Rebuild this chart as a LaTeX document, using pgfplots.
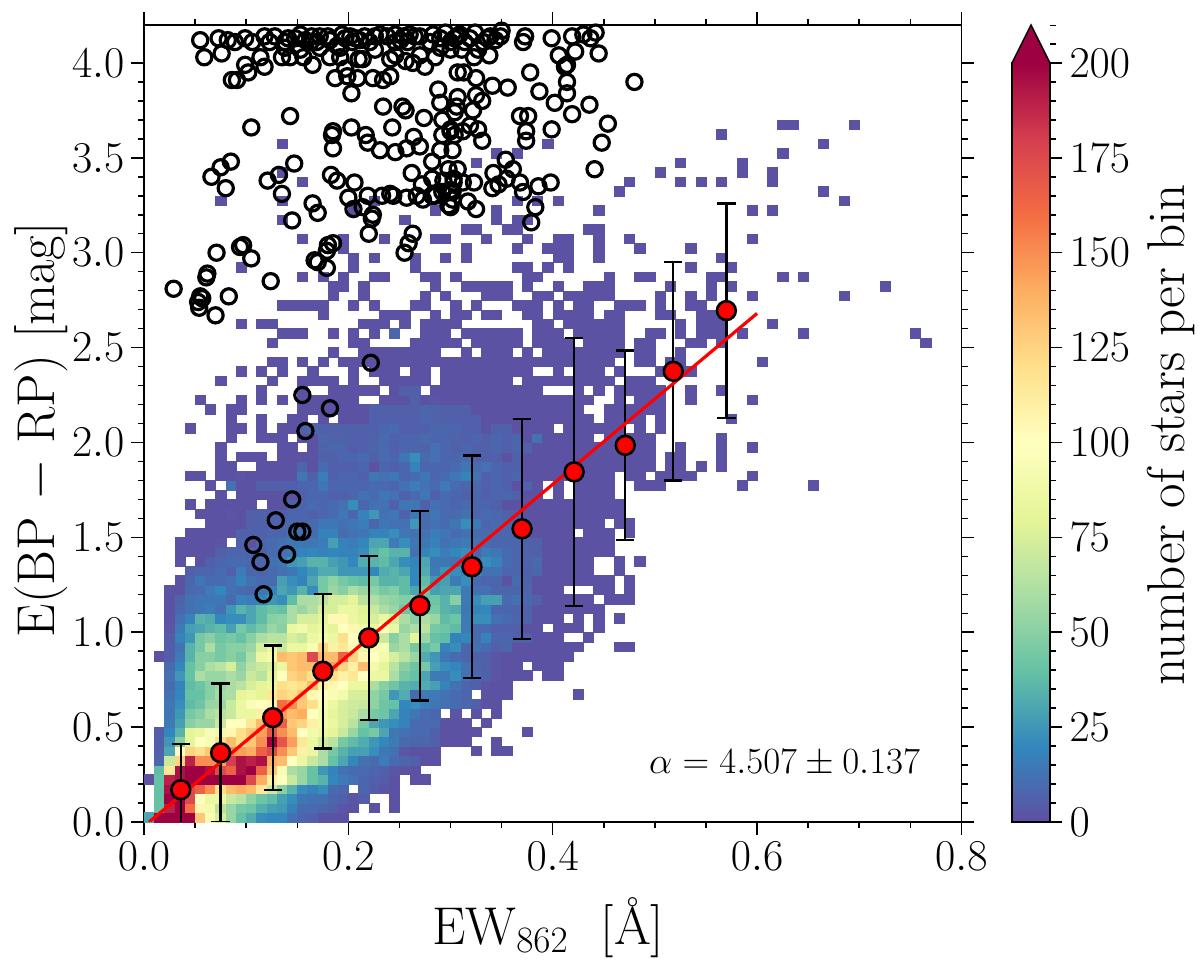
\RequirePackage{fix-cm}
\documentclass[border=0pt]{standalone}
\usepackage{pgfplots}
\pgfplotsset{compat=1.18}
\newcount\ci
\def\cells{}
\newcommand\R[3]{\global\ci=#2\relax\pgfmathsetmacro\yy{#1*0.05+0.025}\foreach\v in{#3}{\ifnum\v>0 \xdef\cells{\cells(\ifnum\ci<10 0.0\else 0.\fi\the\ci 5,\yy)[\v] }\fi\global\advance\ci by 1 }}
\newcommand\Rs[2]{\pgfmathsetmacro\yy{#1*0.05+0.025}\foreach\c in{#2}{\xdef\cells{\cells(0.\c 5,\yy)[1] }}}
% counts per bin: \R{row}{first column}{values}, bin size 0.01 x 0.05
\R{0}{0}{30,200,200,200,200,130,95,75,55,40,32,22,20,20,12,8,6,1,1,1}
\R{1}{1}{40,190,200,160,105,90,65,55,45,42,33,28,26,18,10,10,8,6,2,1,0,1,0,1}
\R{2}{1}{40,200,200,175,100,85,85,70,65,52,42,38,28,22,14,12,12,8,6,2,5,0,0,1}
\R{3}{1}{40,195,200,175,165,150,120,135,140,135,115,70,50,35,22,18,22,10,8,0,8,5,2,1}
\R{4}{0}{1,40,190,195,200,200,200,200,200,200,175,140,110,100,70,55,40,35,20,15,12,8,6,5,1,0,1,1}
\R{5}{1}{38,115,195,200,200,195,175,165,195,200,165,130,95,60,55,40,25,18,12,10,9,8,6,2,1,1}
\R{6}{1}{8,70,125,190,150,150,145,180,195,190,195,140,135,100,85,70,60,40,30,20,12,10,16,10,8,6,1,1}
\R{7}{1}{6,30,100,125,120,130,175,150,145,140,165,175,150,130,110,85,60,45,35,28,28,22,14,12,2,1,1,1,0,0,0,1,0,1,1}
\R{8}{1}{5,25,50,80,100,95,120,135,120,130,150,200,170,145,115,85,72,65,45,38,32,25,20,15,10,8,8,6,1,1,1,0,0,1}
\R{9}{1}{5,20,35,80,85,95,90,105,120,130,145,170,150,135,100,90,85,80,70,55,40,45,30,14,12,10,10,6,1,1,1,1,0,0,0,0,1}
\R{10}{2}{15,28,50,55,55,70,100,100,115,135,150,165,130,125,110,90,85,75,65,45,30,25,22,18,10,9,10,1,1,1,0,1}
\R{11}{2}{14,25,45,50,60,65,70,85,85,110,130,145,135,140,100,90,80,75,70,60,45,42,30,18,14,10,8,0,2,0,1,0,1}
\R{12}{2}{14,22,38,42,55,55,70,85,95,100,105,160,150,130,120,95,85,75,72,70,52,42,40,20,22,16,14,12,10,8,6,1,1}
\R{13}{2}{12,20,40,40,50,58,60,80,85,80,115,125,120,130,105,100,95,90,75,75,52,45,25,32,10,15,15,12,10,8,0,1,1,1,0,0,0,0,0,0,1}
\R{14}{2}{10,18,38,42,50,55,60,65,75,80,85,120,115,120,135,110,105,100,85,85,60,50,42,35,32,32,28,18,12,8,6,2,1,1}
\R{15}{2}{12,25,40,60,55,55,60,55,70,65,80,100,125,130,120,140,120,110,115,100,85,85,60,45,40,30,15,15,22,12,8,6,2,1,1,1,0,1,1}
\R{16}{2}{10,20,40,50,60,65,75,52,65,70,75,85,130,135,135,150,145,125,110,135,90,80,65,50,42,45,28,22,20,12,8,6,2,1,1,0,1,1,1}
\R{17}{1}{1,5,15,35,50,50,45,50,45,60,85,90,135,130,135,175,135,135,165,125,105,100,90,75,65,55,32,25,14,10,8,6,6,2,1,1,1,1,1,1,1}
\R{18}{2}{5,12,35,45,60,45,50,50,55,75,85,70,85,85,95,125,110,115,95,85,95,95,55,60,45,38,45,18,22,8,12,10,6,8,1,1,1,1,1,1,1,0,0,0,1,1}
\R{19}{2}{5,18,25,45,50,42,45,40,50,60,65,65,75,70,85,90,85,120,100,95,90,70,50,60,80,55,40,38,18,20,10,18,8,8,6,6,1,1,1,0,0,1}
\R{20}{2}{2,15,28,30,35,38,28,45,38,45,55,50,85,90,80,85,80,100,105,90,85,100,85,55,60,65,45,42,38,15,10,10,6,6,6,1,1,0,1,1,1,0,1}
\R{21}{2}{1,12,18,35,32,20,22,22,30,38,50,52,60,75,75,80,105,105,85,80,75,85,75,60,50,60,55,38,42,15,22,22,12,10,8,7,1,1,1,0,1,0,1,0,1}
\R{22}{2}{1,8,12,14,16,12,25,35,30,38,42,40,60,55,62,75,75,85,85,78,70,60,55,42,52,45,45,35,32,14,18,20,8,8,7,7,1,1,1,1,1,1,1}
\R{23}{2}{1,7,12,14,14,14,10,18,16,18,25,22,38,60,60,65,75,75,80,65,62,55,52,48,52,40,42,35,50,15,22,28,28,10,12,8,6,1,1,1,1,1,0,1,1,1}
\R{24}{2}{1,1,10,9,15,20,12,10,8,14,18,30,25,35,22,45,55,50,60,55,52,45,48,38,30,42,28,30,30,15,12,12,8,8,8,8,1,1,1,0,0,0,1,1,0,1}
\R{25}{3}{1,8,14,10,10,12,18,12,10,10,28,22,18,30,45,52,45,40,38,45,35,35,38,20,38,25,28,15,22,10,8,8,1,10,7,1,1,1,1,1,1,1,1,0,1}
\R{26}{4}{6,8,8,10,6,16,8,8,10,12,14,20,25,32,32,25,25,25,20,32,35,30,20,32,15,24,22,18,22,12,12,8,8,6,8,1,1,1,1,1,0,0,1}
\R{27}{3}{1,0,1,6,8,10,10,8,8,12,14,25,28,35,35,28,25,20,32,35,38,30,22,18,30,14,14,12,24,10,22,18,10,8,7,10,1,1,1,1,1,0,0,1,0,1}
\R{28}{3}{1,1,1,1,6,8,8,8,6,10,12,14,18,20,18,20,18,18,22,35,40,35,35,12,18,22,16,20,22,8,15,14,10,8,7,6,1,1,1,1,1,1,1}
\R{29}{3}{1,1,1,1,2,0,6,1,8,10,12,14,14,14,16,28,18,16,20,30,30,15,22,14,14,18,12,14,15,12,10,8,8,8,6,6,1,1,1,1,1,1,1}
\R{30}{4}{1,1,1,1,1,6,6,6,8,8,12,12,10,18,18,10,12,14,18,18,22,14,12,12,16,14,10,12,10,10,8,8,6,1,1,1,1,1,0,1,1,1,0,1}
\R{31}{6}{1,1,1,1,6,6,6,8,10,8,10,14,14,12,14,16,8,14,12,12,25,10,12,10,14,22,15,8,10,8,6,1,1,1,1,1,1,1,1,0,1,1}
\R{32}{5}{1,1,1,2,1,6,6,6,6,8,8,6,8,10,14,8,18,25,12,14,6,14,10,14,10,10,12,8,10,8,6,6,1,1,1,1,1,1,1,1,1,1}
\R{33}{4}{1,0,1,1,1,1,1,0,1,1,6,8,10,8,10,12,22,8,12,12,6,14,14,6,12,10,8,10,8,8,6,1,1,1,1,1,1,1,1,1,1,1,1}
\R{34}{7}{1,0,1,1,1,1,1,1,6,8,8,6,6,8,12,10,14,12,6,10,14,6,10,8,6,8,6,8,8,6,1,1,0,1,0,1,1,1,1}
\R{35}{6}{1,0,12,1,1,6,6,6,6,8,8,14,8,8,8,8,10,10,8,12,16,12,10,15,10,8,10,6,8,6,1,6,1,0,1,0,1,1,1,1,0,0,1,1,1}
\Rs{35}{58,65}
\R{36}{4}{1,1,0,1,1,2,1,1,1,1,1,14,6,16,6,8,8,6,14,12,14,8,10,14,8,10,14,18,12,6,8,6,8,1,1,1,1,1,1,1,1,1,0,1,1,0,1,1,1,1}
\Rs{36}{59}
\R{37}{7}{1,1,0,0,1,1,1,1,8,1,10,6,6,6,8,1,8,6,8,18,8,8,8,10,14,10,12,8,6,6,1,1,1,1,1,1,1,1,1,1,1,1,1,0,1,1,0,1,0,1}
\Rs{37}{56}
\R{38}{7}{1,0,1,1,1,0,1,1,1,1,6,6,8,8,10,6,10,8,14,22,10,12,8,8,10,6,6,6,1,6,1,1,1,1,1,1,1,1,1,1,1,1,1,0,1,1}
\Rs{38}{56}
\R{39}{7}{1,0,0,0,0,0,1,1,0,1,7,8,8,5,6,8,10,6,8,8,7,12,8,6,8,6,6,8,6,8,6,1,1,1,1,1,1,1,1,1,1,1,1}
\Rs{39}{52,56,59}
\R{40}{8}{1,0,0,1,1,1,0,1,1,8,7,7,6,6,7,10,6,8,8,10,8,8,7,6,8,6,8,6,8,1,12,1,1,1,1,1,0,1,1,1,1,1}
\Rs{40}{56}
\R{41}{4}{1}
\R{41}{8}{1,1,0,1,0,1,1,6,8,6,6,6,6,6,6,8,10,6,6,6,8,8,8,6,6,1,6,6,1,1,1,1,0,1,1,1,1,1,1,0,1,0,1}
\R{42}{8}{1,0,0,1,0,0,1,1,0,1,0,1,1,1,6,6,6,6,6,8,7,6,6,6,6,1,1,1,1,1,1,1,1,1,1,1,0,1,1,1,1,0,1}
\Rs{42}{57}
\R{43}{6}{1,0,1,1,0,0,0,0,0,1,1,1,1,1,1,1,6,6,6,6,6,8,7,6,6,6,1,1,1,1,1,1,1,1,1,1,1,0,0,1,1,1,1,1,1}
\R{44}{5}{1,0,0,0,1,0,1,0,1,0,1,1,1,1,1,1,0,0,1,1,1,6,1,2,1,1,1,1,1,1,1,1,1,1,1,1,1,1,1,0,0,1,0,1,1,1,0,0,1}
\Rs{44}{59}
\R{45}{11}{1,0,0,0,1,0,0,1,1,1,1,1,0,1,6,6,0,1,1,1,1,1,1,1,1,1,1,1,0,0,0,1,0,1,0,1,1,1,1,1,0,0,1,0,0,1}
\Rs{46}{12,15,16,17,18,20,23,24,25,26,27,29,30,31,32,33,34,35,37,38,39,40,41,42,43,44,45,47,48,49}
\R{46}{7}{1}
\R{47}{9}{1}
\Rs{47}{11,13,16,20,22,23,24,26,27,29,30,31,32,33,34,35,36,37,40,42,43,44,46,50,51,52,53}
\Rs{48}{12,13,15,17,19,20,21,22,23,24,25,26,27,28,29,30,31,32,33,34,35,36,37,38,39,40,41,42,43,44,45,48,49,51,52,60}
\Rs{49}{18,21,22,23,24,25,26,27,28,31,33,34,35,37,39,40,41,42,43,44,45,46,48,49,52}
\Rs{50}{12,20,21,26,27,28,29,30,32,33,34,35,36,38,39,40,41,43,44,45,46,48,49,53,54,56,76}
\Rs{51}{13,14,15,18,20,22,27,28,29,31,32,33,34,35,36,38,39,40,42,43,44,45,46,49,50,52,54,55,56,58,64,75}
\R{51}{24}{8}
\Rs{52}{11,12,21,22,23,25,27,28,29,30,38,39,41,42,43,44,45,46,52,54,55,56,61}
\R{52}{9}{1}
\Rs{53}{17,23,24,25,28,30,31,33,34,37,38,40,41,42,43,45,46,50,51,54,55,56}
\Rs{54}{13,14,15,16,17,20,22,26,27,30,32,36,37,38,40,42,43,46,47,48,50,53,54}
\Rs{55}{18,21,27,29,33,34,35,38,39,41,42,43,44,45,50,53,55,59,68}
\Rs{56}{18,19,21,28,31,32,33,34,35,37,40,43,44,45,51,55,57,72}
\Rs{57}{15,17,19,22,23,27,28,30,37,38,45,48,49,55,56,62,64}
\Rs{58}{20,26,36,37,39,41,53,57}
\R{58}{9}{1}
\Rs{59}{20,22,26,29,31,40,41,44,56}
\Rs{60}{19,31,36,39,40,41,44,48,53}
\Rs{61}{15,19,23,28,29,33,37,40,41,44,47,59}
\Rs{62}{31,32,35,36,43,44}
\Rs{63}{13,25,34,36,37}
\Rs{64}{20,28,34,44,59,61}
\Rs{65}{13,22,36,38,40,68}
\R{65}{7}{1}
\Rs{66}{46,66}
\Rs{67}{15,47,52,54,56,61}
\Rs{68}{13,50,58,61}
\Rs{69}{32,52,58}
\Rs{70}{34,36,62}
\Rs{71}{13,39,66}
\Rs{72}{56}
\Rs{73}{62,63,69}
\pgfdeclareplotmark{cell}{\pgfpathrectangle{\pgfpoint{-2.55pt}{-2.37pt}}{\pgfpoint{5.1pt}{4.74pt}}\pgfusepathqfillstroke}
\pgfplotsset{
  colormap={spectral}{rgb255=(94,79,162) rgb255=(50,136,189) rgb255=(102,194,165) rgb255=(171,221,164) rgb255=(230,245,152) rgb255=(255,255,191) rgb255=(254,224,139) rgb255=(253,174,97) rgb255=(244,109,67) rgb255=(213,62,79) rgb255=(158,1,66)},
  colormap name=spectral,
  hist/.style={only marks,scatter,scatter src=explicit,mark=cell,
    mark options={solid,line width=0.1pt},
    scatter/use mapped color={draw=mapped color,fill=mapped color}},
  tick align=outside,
  major tick length=6.3pt,
  minor tick length=3.1pt,
  every tick/.style={black,line width=0.75pt},
  every minor tick/.style={black,line width=0.75pt},
  tick label style={font=\fontsize{22}{26}\selectfont},
  label style={font=\fontsize{26.6}{31}\selectfont},
  axis line style={line width=0.85pt}
}
\definecolor{cbtop}{RGB}{158,1,66}
\begin{document}
\begin{tikzpicture}
\useasboundingbox (-72pt,-70.5pt) rectangle (528pt,411pt);
\begin{axis}[
  name=main,anchor=south west,at={(0,0)},
  clip mode=individual,
  scale only axis,width=408.7pt,height=398.5pt,
  xmin=0,xmax=0.8,ymin=0,ymax=4.2,
  xtick={0,0.2,0.4,0.6,0.8},ytick={0,0.5,1,1.5,2,2.5,3,3.5,4},
  minor x tick num=3,minor y tick num=4,
  tick pos=both,xticklabel pos=bottom,yticklabel pos=left,
  xticklabel style={/pgf/number format/fixed,/pgf/number format/fixed zerofill,/pgf/number format/precision=1},
  yticklabel style={/pgf/number format/fixed,/pgf/number format/fixed zerofill,/pgf/number format/precision=1},
  xlabel={EW$_{862}$\ \ [\AA]},ylabel={E(BP $-$ RP) [mag]},
  xlabel style={at={(axis description cs:0.4945,-0.133)},anchor=center},
  ylabel style={at={(axis description cs:-0.126,0.492)},anchor=center},
  point meta min=0,point meta max=200,
  colorbar,
  colorbar/width=19pt,
  colorbar style={
    scale only axis,width=19pt,height=379.5pt,
    at={(parent axis.south east)},anchor=south west,xshift=16.7pt,
    ytick={0,25,50,75,100,125,150,175,200},minor y tick num=4,
    tick align=outside,
    ytick pos=right,yticklabel pos=right,
    ylabel={number of stars per bin},
    ylabel style={at={(axis description cs:4.2,0.51)},anchor=center}
  }
]
\edef\tmp{\noexpand\addplot[hist] coordinates {\cells};}\tmp
\addplot[only marks,mark=o,mark size=3.8pt,mark options={black,line width=1.6pt,fill=none},forget plot] table[row sep=crcr] {
0.029 2.81\\0.054 2.71\\0.055 2.77\\0.057 2.76\\0.053 2.74\\0.062 2.89\\0.061 2.87\\0.070 2.67\\0.083 2.77\\0.071 3.00\\
0.094 3.03\\0.097 3.04\\0.105 2.97\\0.124 2.85\\0.085 3.48\\0.075 3.45\\0.066 3.40\\0.080 3.34\\0.147 3.47\\0.132 3.41\\
0.121 3.38\\0.135 3.31\\0.145 3.17\\0.165 3.26\\0.170 3.21\\0.183 3.41\\0.189 3.38\\0.206 3.37\\0.185 3.55\\0.184 3.62\\
0.219 3.58\\0.231 3.54\\0.246 3.53\\0.257 3.55\\0.270 3.56\\0.282 3.48\\0.262 3.42\\0.272 3.36\\0.282 3.39\\0.303 3.39\\
0.307 3.44\\0.200 3.29\\0.205 3.23\\0.214 3.24\\0.219 3.30\\0.233 3.30\\0.241 3.31\\0.244 3.30\\0.257 3.29\\0.267 3.30\\
0.273 3.28\\0.282 3.30\\0.292 3.32\\0.302 3.32\\0.298 3.25\\0.224 3.20\\0.223 3.18\\0.220 3.10\\0.263 3.10\\0.259 3.05\\
0.255 3.00\\0.180 3.04\\0.185 3.05\\0.179 3.01\\0.167 2.96\\0.170 2.95\\0.179 2.92\\0.222 2.42\\0.155 2.25\\0.182 2.18\\
0.158 2.06\\0.145 1.70\\0.129 1.59\\0.150 1.53\\0.155 1.53\\0.107 1.46\\0.140 1.41\\0.114 1.37\\0.117 1.20\\
0.055 4.12\\0.059 4.03\\0.073 4.13\\0.076 4.05\\0.082 4.12\\0.089 4.11\\0.099 4.13\\0.099 3.99\\0.102 3.95\\0.106 4.11\\
0.114 4.03\\0.118 3.98\\0.086 3.91\\0.091 3.91\\0.118 4.14\\0.128 4.14\\0.123 4.11\\0.135 4.03\\0.141 4.13\\0.143 4.03\\
0.156 4.03\\0.165 3.99\\0.164 4.14\\0.158 4.12\\0.169 4.11\\0.180 4.14\\0.182 4.03\\0.194 4.15\\0.192 4.03\\0.189 4.09\\
0.204 4.11\\0.211 4.12\\0.214 4.02\\0.210 4.02\\0.187 3.92\\0.199 3.93\\0.209 3.92\\0.203 3.84\\0.224 3.92\\0.234 3.91\\
0.241 3.93\\0.221 4.11\\0.231 4.15\\0.238 4.14\\0.241 4.02\\0.246 4.11\\0.254 4.14\\0.256 4.01\\0.263 4.00\\0.270 4.04\\
0.265 4.14\\0.258 4.11\\0.275 3.98\\0.285 4.03\\0.283 4.15\\0.300 4.07\\0.304 4.13\\0.307 3.95\\0.288 3.86\\0.290 3.79\\
0.307 3.82\\0.304 3.74\\0.234 3.77\\0.253 3.77\\0.256 3.75\\0.274 3.71\\0.143 3.72\\0.105 3.66\\0.185 3.64\\0.203 3.66\\
0.243 3.66\\0.217 3.62\\0.264 3.61\\0.300 3.65\\0.292 3.62\\0.373 4.14\\0.371 4.11\\0.399 4.13\\0.419 4.14\\0.430 4.15\\
0.437 4.13\\0.442 4.16\\0.445 4.05\\0.406 4.04\\0.422 4.06\\0.414 3.99\\0.412 3.98\\0.378 3.95\\0.480 3.90\\0.414 3.90\\
0.414 3.84\\0.387 3.85\\0.402 3.79\\0.436 3.78\\0.419 3.73\\0.454 3.68\\0.368 3.72\\0.376 3.72\\0.374 3.64\\0.374 3.59\\
0.399 3.65\\0.448 3.58\\0.441 3.44\\0.313 3.95\\0.325 3.92\\0.341 3.88\\0.356 3.87\\0.323 4.03\\0.338 4.04\\0.307 4.14\\
0.319 4.13\\0.336 4.13\\0.349 4.14\\0.350 4.17\\0.339 4.14\\0.325 3.83\\0.331 3.80\\0.306 3.77\\0.322 3.75\\0.312 3.64\\
0.327 3.65\\0.331 3.59\\0.300 3.64\\0.302 3.54\\0.354 3.49\\0.361 3.44\\0.342 3.42\\0.368 3.37\\0.386 3.35\\0.398 3.37\\
0.371 3.32\\0.347 3.36\\0.341 3.34\\0.355 3.39\\0.323 3.37\\0.312 3.37\\0.303 3.37\\0.300 3.33\\0.302 3.28\\0.317 3.27\\
0.325 3.23\\0.383 3.24\\0.379 3.16\\0.300 3.24\\0.138 4.11\\0.148 4.13\\0.153 4.15\\0.163 4.11\\0.172 4.14\\0.182 4.12\\
0.197 4.13\\0.202 4.14\\0.207 4.13\\0.216 4.14\\0.226 4.14\\0.246 4.15\\0.251 4.12\\0.260 4.15\\0.270 4.14\\0.280 4.11\\
0.290 4.13\\0.295 4.16\\0.309 4.15\\0.314 4.11\\0.290 4.08\\0.300 4.11\\0.324 4.16\\0.332 4.11\\0.344 4.12\\0.311 4.07\\
0.327 4.07\\0.172 4.08\\0.192 4.08\\0.138 4.08\\0.153 4.07\\0.226 4.07\\0.246 4.04\\0.197 3.97\\0.290 3.54\\0.298 3.44\\
0.293 3.38\\0.304 3.62\\0.285 3.30\\0.292 3.70\\0.319 3.67\\
};
\addplot[draw=none,forget plot,
  error bars/.cd,y dir=both,y explicit,
  error bar style={solid,draw=black,line width=1.15pt},
  error mark options={rotate=90,draw=black,mark size=4.6pt,line width=1.15pt}]
coordinates {
(0.036,0.17) +- (0,0.24)
(0.075,0.365) +- (0,0.365)
(0.126,0.55) +- (0,0.38)
(0.175,0.795) +- (0,0.407)
(0.220,0.97) +- (0,0.432)
(0.270,1.14) +- (0,0.50)
(0.321,1.345) +- (0,0.587)
(0.370,1.545) +- (0,0.58)
(0.421,1.845) +- (0,0.707)
(0.471,1.985) +- (0,0.50)
(0.518,2.375) +- (0,0.575)
(0.570,2.695) +- (0,0.565)
};
\addplot[red,line width=1.6pt,forget plot] coordinates {(0.005,0) (0.6,2.68)};
\addplot[only marks,mark=*,mark size=4.7pt,mark options={fill=red,draw=black,line width=1.3pt},forget plot]
coordinates {(0.036,0.17) (0.075,0.365) (0.126,0.55) (0.175,0.795) (0.220,0.97) (0.270,1.14) (0.321,1.345) (0.370,1.545) (0.421,1.845) (0.471,1.985) (0.518,2.375) (0.570,2.695)};
\node[font=\fontsize{18.45}{23}\selectfont,anchor=center] at (axis cs:0.627,0.311) {$\alpha = 4.507 \pm 0.137$};
\end{axis}
% extension triangle and the two ticks above it, in picture points
\fill[cbtop] (434.6pt,378.5pt) rectangle (452.6pt,380.5pt);
\filldraw[fill=cbtop,draw=black,line width=0.75pt,line join=miter] (434pt,379.5pt) -- (443.5pt,398.5pt) -- (453pt,379.5pt);
\draw[black,line width=0.75pt] (453pt,389pt) -- (456.1pt,389pt);
\draw[black,line width=0.75pt] (453pt,398.2pt) -- (456.1pt,398.2pt);
\end{tikzpicture}
\end{document}
